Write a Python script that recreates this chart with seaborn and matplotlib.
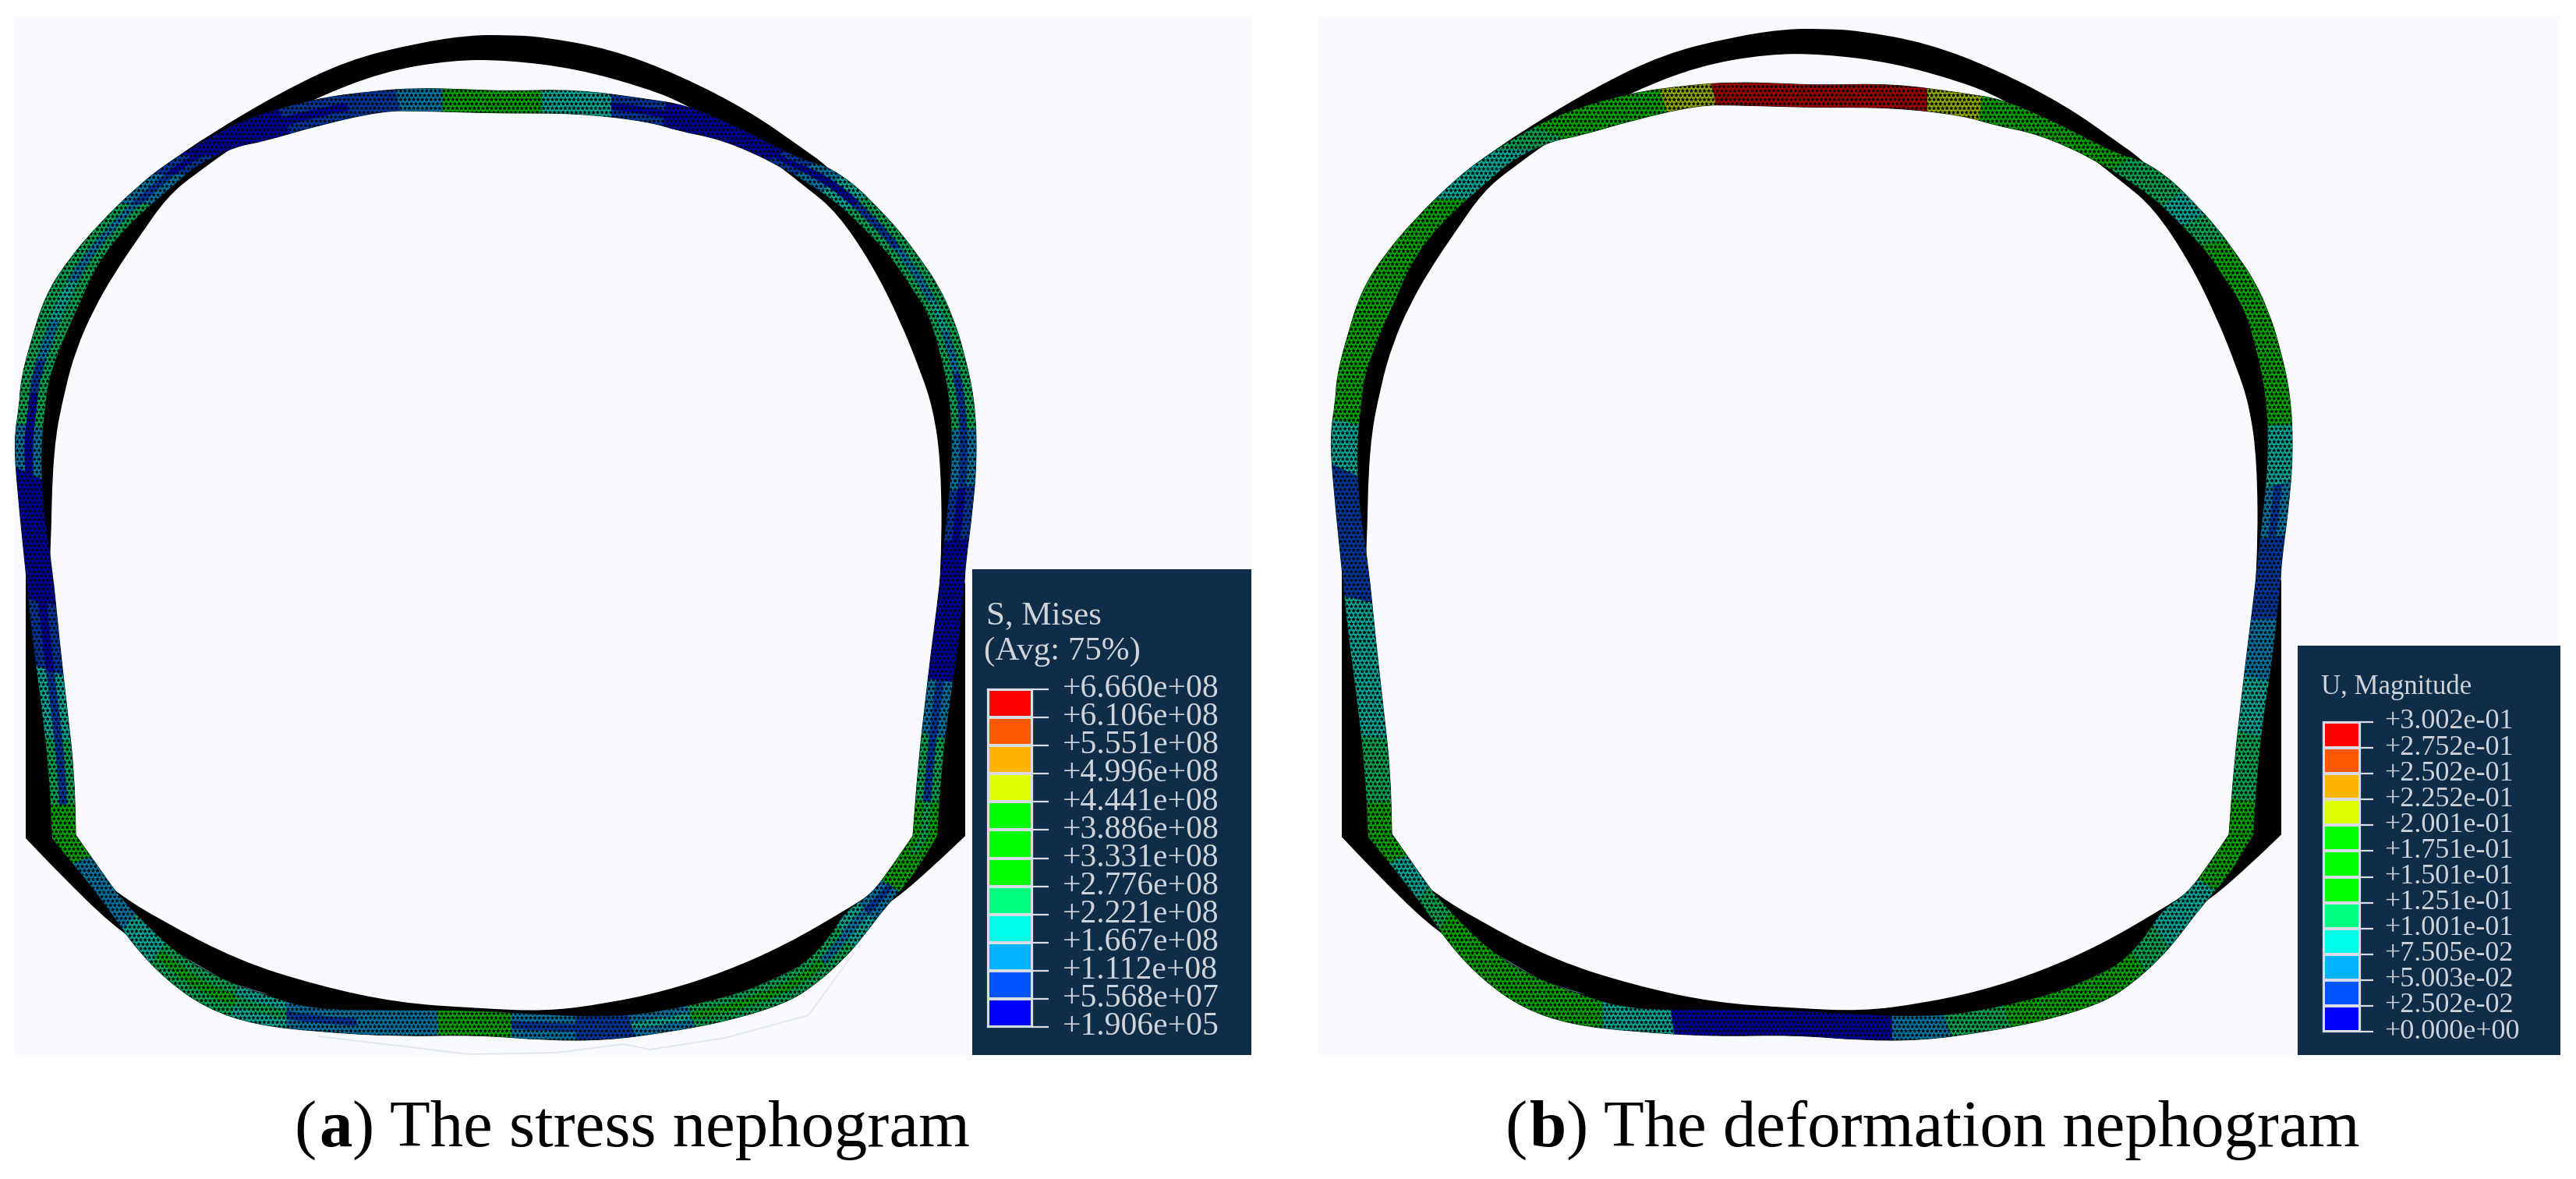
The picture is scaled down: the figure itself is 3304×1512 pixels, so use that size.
import numpy as np
import matplotlib
matplotlib.use('Agg')
import matplotlib.pyplot as plt
from matplotlib.colors import ListedColormap
from matplotlib.patches import PathPatch, Rectangle
from matplotlib.path import Path
import seaborn as sns

# legend levels
stress_labels = ['+6.660e+08', '+6.106e+08', '+5.551e+08', '+4.996e+08', '+4.441e+08', '+3.886e+08', '+3.331e+08',
                 '+2.776e+08', '+2.221e+08', '+1.667e+08', '+1.112e+08', '+5.568e+07', '+1.906e+05']
disp_labels = ['+3.002e-01', '+2.752e-01', '+2.502e-01', '+2.252e-01', '+2.001e-01', '+1.751e-01', '+1.501e-01',
               '+1.251e-01', '+1.001e-01', '+7.505e-02', '+5.003e-02', '+2.502e-02', '+0.000e+00']
level_colors = ['#0000FF', '#0055FF', '#00B2FF', '#00FFE6', '#00FF80', '#00FF00', '#00FF00', '#00FF00',
                '#DDFF00', '#FFB400', '#FF5900', '#FF0000']
stress_bounds = [0.0019, 0.5568, 1.112, 1.667, 2.221, 2.776, 3.331, 3.886, 4.441, 4.996, 5.551, 6.106, 6.660]
disp_bounds = [0.0, 0.2502, 0.5003, 0.7505, 1.001, 1.251, 1.501, 1.751, 2.001, 2.252, 2.502, 2.752, 3.002]

# undeformed ring, pixel positions (corners listed twice to keep them sharp)
ring_outer_x = [650, 695, 784, 873, 962, 1029, 1060, 1090, 1119, 1163, 1199, 1217, 1221, 1222, 1213, 1238, 1238, 1238, 1238, 1198,
                1148, 1083, 1045, 987, 930, 834, 700, 612, 510, 388, 306, 230, 194, 143, 77, 33, 33, 33, 33, 63, 55, 52, 54,
                62, 80, 103, 134, 179, 214, 268, 357, 446, 536, 603]
ring_outer_y = [45, 47, 63, 97, 143, 190, 212, 245, 288, 345, 420, 487, 533, 616, 678, 749, 749, 1072, 1072, 1110,
                1154, 1195, 1229, 1259, 1280, 1300, 1315, 1315, 1310, 1295, 1270, 1240, 1220, 1186, 1121, 1075, 1075, 730, 730, 715, 653, 577, 520,
                453, 387, 337, 287, 247, 210, 173, 120, 77, 55, 45]
ring_inner_x = [650, 739, 829, 878, 950, 1034, 1074, 1119, 1154, 1181, 1197, 1207, 1208, 1195, 1185, 1150, 1121, 1083,
                1007, 930, 853, 777, 700, 612, 510, 408, 306, 204, 150, 122, 88, 75, 60, 65, 68, 83, 98, 120, 147, 179,
                214, 250, 340, 402, 491, 580]
ring_inner_y = [77, 88, 113, 133, 175, 240, 273, 340, 410, 477, 525, 595, 720, 900, 1072, 1120, 1144, 1168,
                1212, 1246, 1271, 1287, 1297, 1293, 1286, 1264, 1232, 1179, 1145, 1120, 1072, 950, 800, 711, 577, 500, 447, 397, 350, 303,
                253, 223, 160, 127, 92, 77]

# deformed band, outer and inner edge at each station, clockwise from the crown
band_ox = [650, 739, 829, 880, 935, 985, 1029, 1060, 1096, 1125, 1154, 1180, 1204, 1222, 1235, 1250, 1253, 1247, 1238, 1237,
           1227, 1217, 1207, 1202, 1170, 1137, 1106, 1083, 1045, 1007, 930, 853, 777, 700, 612, 510, 408, 327, 265, 214,
           173, 143, 120, 67, 63, 53, 40, 33, 23, 18, 25, 27, 40, 58, 85, 127, 179, 214, 250, 312, 402, 478, 536, 600]
band_oy = [117, 115, 127, 135, 158, 183, 205, 213, 237, 266, 297, 332, 367, 407, 447, 512, 587, 657, 724, 749,
           844, 906, 989, 1072, 1125, 1161, 1202, 1229, 1263, 1287, 1310, 1324, 1334, 1334, 1327, 1329, 1323, 1314, 1293, 1257,
           1214, 1171, 1140, 1075, 990, 902, 806, 730, 634, 565, 520, 487, 437, 380, 337, 287, 237, 210, 187, 153, 127, 117, 113, 115]
band_ix = [650, 739, 829, 872, 918, 965, 1007, 1034, 1074, 1098, 1125, 1145, 1170, 1190, 1205, 1219, 1222, 1214, 1208, 1205,
           1194, 1187, 1178, 1171, 1145, 1118, 1085, 1062, 1030, 987, 930, 834, 777, 700, 612, 510, 400, 335, 275, 230,
           194, 153, 135, 97, 95, 86, 76, 67, 55, 52, 58, 62, 80, 103, 125, 165, 223, 254, 304, 335, 410, 491, 536, 600]
band_iy = [145, 145, 155, 168, 177, 195, 217, 233, 260, 283, 310, 332, 370, 400, 447, 512, 590, 670, 720, 755,
           840, 900, 980, 1072, 1110, 1147, 1168, 1205, 1238, 1259, 1280, 1300, 1304, 1302, 1296, 1296, 1295, 1275, 1252, 1225,
           1193, 1150, 1125, 1071, 990, 910, 822, 730, 653, 577, 520, 487, 437, 387, 337, 287, 237, 210, 187, 182, 160, 142, 142, 144]
band_corners = [23, 43]

# values along the band, in 1e8 Pa for stress, in 0.1 for displacement
stress_edge = [3.3, 2.0, 0.9, 0.4, 0.3, 0.5, 1.0, 1.5, 2.0, 2.4, 2.6, 2.7, 2.7, 2.7, 2.7, 2.6, 1.5, 0.9, 0.5, 0.4,
               0.5, 1.2, 2.3, 3.0, 3.0, 1.6, 1.8, 2.4, 2.5, 2.6, 2.6, 1.5, 1.0, 1.6, 2.8, 1.6, 1.2, 2.2, 2.6, 2.6,
               1.8, 1.3, 1.6, 3.2, 2.7, 1.8, 0.9, 0.4, 0.5, 1.2, 2.3, 2.6, 2.7, 2.7, 2.7, 2.6, 1.6, 1.0, 0.5, 0.4,
               0.6, 1.0, 1.6, 2.8]
stress_core = [3.3, 1.8, 0.5, 0.3, 0.3, 0.3, 0.4, 0.3, 0.5, 0.6, 1.0, 1.2, 1.5, 1.8, 1.5, 1.0, 0.6, 0.5, 0.4, 0.4,
               0.5, 0.6, 0.9, 2.7, 2.8, 0.9, 1.2, 1.6, 2.8, 3.1, 3.0, 2.0, 0.7, 1.1, 3.2, 1.5, 1.0, 2.3, 2.8, 2.9,
               2.0, 1.4, 1.5, 3.0, 1.0, 0.7, 0.5, 0.3, 0.4, 0.5, 0.5, 0.8, 1.5, 1.8, 1.6, 1.4, 0.6, 0.4, 0.3, 0.3,
               0.3, 0.6, 1.4, 2.8]
disp_edge = [3.0, 2.9, 2.1, 1.7, 1.6, 1.5, 1.3, 1.2, 1.1, 1.0, 1.2, 1.3, 1.4, 1.5, 1.5, 1.4, 1.0, 0.7, 0.3, 0.3,
             0.6, 0.9, 1.1, 1.3, 1.3, 0.9, 1.0, 1.1, 1.3, 1.4, 1.5, 1.2, 0.6, 0.2, 0.1, 0.2, 0.9, 1.3, 1.5, 1.5,
             1.4, 1.1, 1.0, 1.3, 1.2, 1.0, 0.8, 0.4, 0.4, 0.9, 1.3, 1.4, 1.5, 1.5, 1.4, 1.3, 1.0, 1.0, 1.2, 1.4,
             1.5, 2.2, 2.85, 3.0]
disp_core = [3.0, 2.9, 2.1, 1.7, 1.6, 1.5, 1.3, 1.2, 1.1, 1.0, 1.2, 1.3, 1.4, 1.5, 1.5, 1.4, 0.8, 0.4, 0.3, 0.3,
             0.6, 0.9, 1.1, 1.3, 1.3, 0.9, 1.0, 1.1, 1.3, 1.4, 1.5, 1.2, 0.6, 0.2, 0.1, 0.2, 0.9, 1.3, 1.5, 1.5,
             1.4, 1.1, 1.0, 1.3, 1.2, 1.0, 0.8, 0.4, 0.4, 0.9, 1.3, 1.4, 1.5, 1.5, 1.4, 1.3, 1.0, 1.0, 1.2, 1.4,
             1.5, 2.2, 2.85, 3.0]

ghost_x = [408, 510, 602, 714, 800, 834, 930, 1037, 1095]
ghost_y = [1329, 1341, 1352, 1350, 1339, 1346, 1331, 1302, 1222]
lens_left_x = [228, 290, 347, 300, 240]
lens_left_y = [1222, 1258, 1276, 1266, 1236]
lens_right_x = [938, 1000, 1045, 1000]
lens_right_y = [1278, 1252, 1229, 1258]

W, H = 3304, 1512
BG = '#F8FAFD'
NAVY = '#0F2C49'
TXT = '#D0D4D9'

sns.set_theme(style='white')
plt.rcParams['font.family'] = ['Liberation Serif', 'DejaVu Serif']
plt.rcParams['hatch.linewidth'] = 0.6

fig = plt.figure(figsize=(W / 100, H / 100), dpi=100, facecolor='white')
ax = fig.add_axes([0, 0, 1, 1])
ax.set_xlim(0, W)
ax.set_ylim(H, 0)
ax.axis('off')


def shade(hex_color, f):
    return tuple(c * f for c in matplotlib.colors.to_rgb(hex_color))


def band_color(v, bounds):
    i = int(np.clip(np.searchsorted(bounds, v) - 1, 0, 11))
    return level_colors[i]


def curved(xs, ys):
    # closed quadratic curve with the read points as control points
    p = np.c_[xs, ys]
    mids = (p + np.roll(p, -1, axis=0)) / 2
    verts = [mids[-1]]
    codes = [Path.MOVETO]
    for k in range(len(p)):
        verts += [p[k], mids[k]]
        codes += [Path.CURVE3, Path.CURVE3]
    verts.append(mids[-1])
    codes.append(Path.CLOSEPOLY)
    return Path(verts, codes)


def strip_cell(o, i, a, b):
    # one cell of a strip, from the midpoint before the station to the one after it
    n = len(o)
    e1 = o + a * (i - o)
    e2 = o + b * (i - o)
    cells = []
    for k in range(n):
        prev, nxt = (k - 1) % n, (k + 1) % n
        verts = [(e1[prev] + e1[k]) / 2, e1[k], (e1[k] + e1[nxt]) / 2, (e2[k] + e2[nxt]) / 2, e2[k],
                 (e2[prev] + e2[k]) / 2, (e1[prev] + e1[k]) / 2]
        codes = [Path.MOVETO, Path.CURVE3, Path.CURVE3, Path.LINETO, Path.CURVE3, Path.CURVE3, Path.CLOSEPOLY]
        cells.append(Path(verts, codes))
    return cells


def draw_ring(dx, squash, edge, core, bounds):
    # panel b sits slightly higher at the crown than panel a
    def ty(y):
        return np.asarray(y, dtype=float) - squash * (1 - (np.asarray(y, dtype=float) - 45) / 1290)

    def tx(x):
        return np.asarray(x, dtype=float) + dx

    ax.add_patch(PathPatch(curved(tx(ring_outer_x), ty(ring_outer_y)), facecolor='black', lw=0, zorder=2))
    ax.add_patch(PathPatch(curved(tx(ring_inner_x), ty(ring_inner_y)), facecolor=BG, lw=0, zorder=3))
    ax.fill(tx(lens_left_x), ty(lens_left_y), color='#56657C', lw=0, zorder=3)
    ax.fill(tx(lens_right_x), ty(lens_right_y), color='#56657C', lw=0, zorder=3)

    # corner stations go in twice so the curve turns sharply there
    order = sorted(list(range(len(band_ox))) + band_corners)
    o = np.c_[tx(band_ox), ty(band_oy)][order]
    i = np.c_[tx(band_ix), ty(band_iy)][order]
    for a, b, vals in [(0.0, 0.36, edge), (0.36, 0.68, core), (0.68, 1.0, edge)]:
        for k, cell in enumerate(strip_cell(o, i, a, b)):
            col = band_color(vals[order[k]], bounds)
            # dark backing hides the joins between cells
            ax.add_patch(PathPatch(cell, facecolor='#03100A', edgecolor='#03100A', lw=0.8, zorder=4))
            ax.add_patch(PathPatch(cell, facecolor=shade(col, 0.66), edgecolor='#020a06', hatch='***', lw=0, zorder=5))


def draw_legend(box, cells, labels, titles, fs, tick_right, label_x):
    x0, y0, x1, y1 = box
    ax.add_patch(Rectangle((x0, y0), x1 - x0, y1 - y0, facecolor=NAVY, lw=0, zorder=6))
    cx0, cy0, cx1, cy1 = cells
    lax = fig.add_axes([cx0 / W, 1 - cy1 / H, (cx1 - cx0) / W, (cy1 - cy0) / H], zorder=10)
    levels = np.arange(12)[::-1].reshape(-1, 1)
    sns.heatmap(levels, ax=lax, cmap=ListedColormap(level_colors), vmin=-0.5, vmax=11.5, cbar=False,
                xticklabels=False, yticklabels=False, linewidths=1.6, linecolor='#D7DCE6')
    lax.set_yticks(np.arange(13))
    lax.set_yticklabels([])
    lax.yaxis.tick_right()
    lax.tick_params(axis='y', right=True, length=(tick_right - cx1) * 0.72, width=1.6, color='#D7DCE6')
    for s in lax.spines.values():
        s.set_visible(True)
        s.set_color('#D7DCE6')
        s.set_linewidth(1.6)
    for k, lab in enumerate(labels):
        ax.text(label_x, cy0 + k * (cy1 - cy0) / 12, lab, color=TXT, fontsize=fs, va='center', ha='left', zorder=11)
    for t, tx_, ty_, tfs in titles:
        ax.text(tx_, ty_, t, color=TXT, fontsize=tfs, va='center', ha='left', zorder=11)


def caption(x, y, letter, rest, fs):
    r = fig.canvas.get_renderer()
    for txt, weight in (('(', 'normal'), (letter, 'bold'), (') ' + rest, 'normal')):
        t = ax.text(x, y, txt, fontsize=fs, color='black', fontweight=weight, va='baseline', ha='left', zorder=12)
        x = t.get_window_extent(r).x1 + (4 if txt == '(' else 0)


ax.add_patch(Rectangle((18, 21), 1587, 1332, facecolor=BG, lw=0, zorder=1))
ax.add_patch(Rectangle((1691, 21), 1593, 1332, facecolor=BG, lw=0, zorder=1))
ax.plot(ghost_x, ghost_y, color='#E4E7EA', lw=1.2, zorder=1.5)

draw_ring(0, 0, stress_edge, stress_core, stress_bounds)
draw_ring(1688, 8, disp_edge, disp_core, disp_bounds)

draw_legend((1247, 730, 1605, 1353), (1267, 884, 1324, 1317), stress_labels,
            [('S, Mises', 1265, 790, 31), ('(Avg: 75%)', 1262, 836, 31)], 30, 1345, 1363)
draw_legend((2947, 828, 3284, 1353), (2980, 926, 3027, 1323), disp_labels,
            [('U, Magnitude', 2977, 881, 25)], 26, 3044, 3058)

caption(377, 1470, 'a', 'The stress nephogram', 61)
caption(1930, 1470, 'b', 'The deformation nephogram', 61)

fig.savefig('out.png', dpi=100, facecolor='white')
